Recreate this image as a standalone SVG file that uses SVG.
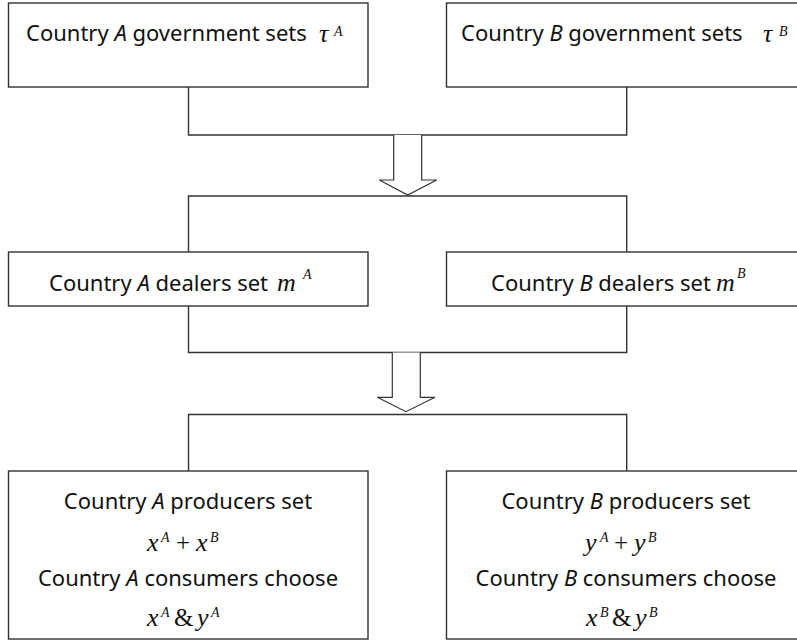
<svg xmlns="http://www.w3.org/2000/svg" width="797" height="640" viewBox="0 0 797 640">
<style>
.box{fill:#fff;stroke:#333;stroke-width:1.4}
.ln{fill:none;stroke:#333;stroke-width:1.4}
.arr{fill:#fff;stroke:#333;stroke-width:1.2;stroke-linejoin:miter}
.t{font-family:"Noto Sans","Open Sans","DejaVu Sans",sans-serif;font-size:22px;fill:#111}
.i{font-style:italic}
.m{font-family:"Liberation Serif","Times New Roman",serif;font-style:italic;font-size:26px;fill:#111}
.s{font-family:"Liberation Serif","Times New Roman",serif;font-style:italic;font-size:14px;fill:#111}
.o{font-family:"Liberation Serif","Times New Roman",serif;font-size:25px;fill:#111}
</style>
<rect width="797" height="640" fill="#fff"/>
<g id="connectors">
<polyline class="ln" points="188.5,87 188.5,135 626.7,135 626.7,87"/>
<path class="arr" d="M393.7,135 V180 H379.3 L407.7,195 L436.7,180 H421.7 V135"/>
<polyline class="ln" points="188.5,252 188.5,196 626.7,196 626.7,252"/>
<polyline class="ln" points="188.5,306 188.5,352.5 626.7,352.5 626.7,306"/>
<path class="arr" d="M392.3,352.5 V397.3 H377.3 L406,411.7 L435,397.3 H420.3 V352.5"/>
<polyline class="ln" points="188.5,471 188.5,414.5 626.7,414.5 626.7,471"/>
</g>
<g id="govA">
<rect class="box" x="8.5" y="3" width="359.5" height="84"/>
<text class="t" x="26" y="41">Country <tspan class="i">A</tspan> government sets</text>
<text class="m" x="319" y="42">τ</text><text class="s" x="334" y="36">A</text>
</g>
<g id="govB">
<rect class="box" x="446.5" y="3" width="360" height="84"/>
<text class="t" x="461" y="41">Country <tspan class="i">B</tspan> government sets</text>
<text class="m" x="763" y="42">τ</text><text class="s" x="779" y="36">B</text>
</g>
<g id="dealA">
<rect class="box" x="8.5" y="252" width="359.5" height="54"/>
<text class="t" x="49" y="291">Country <tspan class="i">A</tspan> dealers set</text>
<text class="m" x="277" y="291">m</text><text class="s" x="303" y="279">A</text>
</g>
<g id="dealB">
<rect class="box" x="446.5" y="252" width="360" height="54"/>
<text class="t" x="491" y="291">Country <tspan class="i">B</tspan> dealers set</text>
<text class="m" x="716" y="291">m</text><text class="s" x="737" y="278">B</text>
</g>
<g id="prodA">
<rect class="box" x="8.5" y="471" width="359.5" height="168"/>
<text class="t" x="188" y="509" text-anchor="middle">Country <tspan class="i">A</tspan> producers set</text>
<text class="m" x="147" y="551">x</text><text class="s" x="161" y="542">A</text>
<text class="o" x="176" y="551">+</text>
<text class="m" x="196" y="551">x</text><text class="s" x="210" y="542">B</text>
<text class="t" x="188" y="586" text-anchor="middle">Country <tspan class="i">A</tspan> consumers choose</text>
<text class="m" x="147" y="626">x</text><text class="s" x="161" y="617">A</text>
<text class="o" x="174" y="626" font-size="27">&amp;</text>
<text class="m" x="197" y="626">y</text><text class="s" x="211" y="617">A</text>
</g>
<g id="prodB">
<rect class="box" x="446.5" y="471" width="360" height="168"/>
<text class="t" x="626" y="509" text-anchor="middle">Country <tspan class="i">B</tspan> producers set</text>
<text class="m" x="585" y="551">y</text><text class="s" x="600" y="542">A</text>
<text class="o" x="614" y="551">+</text>
<text class="m" x="634" y="551">y</text><text class="s" x="648" y="542">B</text>
<text class="t" x="626" y="586" text-anchor="middle">Country <tspan class="i">B</tspan> consumers choose</text>
<text class="m" x="586" y="626">x</text><text class="s" x="600" y="617">B</text>
<text class="o" x="612" y="626" font-size="27">&amp;</text>
<text class="m" x="635" y="626">y</text><text class="s" x="649" y="617">B</text>
</g>
</svg>
